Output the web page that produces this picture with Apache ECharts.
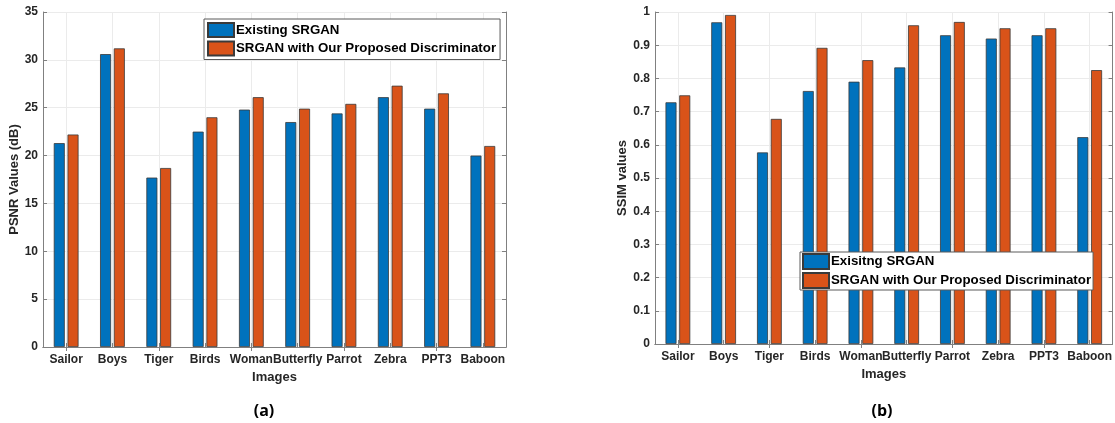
<!DOCTYPE html>
<html>
<head>
<meta charset="utf-8">
<script src="https://cdn.jsdelivr.net/npm/echarts@6/dist/echarts.min.js"></script>
<style>
  html, body { margin: 0; padding: 0; background: #ffffff; }
  #chart { width: 1115px; height: 423px; }
</style>
</head>
<body>
<div id="chart"></div>
<script>
// Test images
const categories = ['Sailor', 'Boys', 'Tiger', 'Birds', 'Woman', 'Butterfly', 'Parrot', 'Zebra', 'PPT3', 'Baboon'];

// PSNR (dB)
const psnrExisting = [21.3, 30.6, 17.7, 22.5, 24.8, 23.5, 24.4, 26.1, 24.9, 20.0];
const psnrProposed = [22.2, 31.2, 18.7, 24.0, 26.1, 24.9, 25.4, 27.3, 26.5, 21.0];

// SSIM
const ssimExisting = [0.728, 0.969, 0.577, 0.762, 0.790, 0.833, 0.930, 0.920, 0.930, 0.623];
const ssimProposed = [0.749, 0.991, 0.678, 0.892, 0.855, 0.960, 0.970, 0.951, 0.951, 0.825];

// Axis ranges
const psnrAxis = { min: 0, max: 35, interval: 5 };
const ssimAxis = { min: 0, max: 1, interval: 0.1 };

// Series / legend names
const psnrNames = ['Existing SRGAN', 'SRGAN with Our Proposed Discriminator'];
const ssimNames = ['Exisitng SRGAN', 'SRGAN with Our Proposed Discriminator'];
const panelLabels = ['(a)', '(b)'];
const yTitles = ['PSNR Values (dB)', 'SSIM values'];
const xTitle = 'Images';

const BLUE = '#0072BD';
const ORANGE = '#D95319';
const INK = '#262626';
const AXIS = '#808080';
const GRIDLINE = '#ebebeb';
const FONT = 'Liberation Sans';

function bottomX(gridIndex, nameGap) {
  return {
    type: 'category', gridIndex, data: categories, position: 'bottom',
    name: xTitle, nameLocation: 'middle', nameGap,
    nameTextStyle: { fontFamily: FONT, fontWeight: 'bold', fontSize: 13, color: INK },
    axisLine: { lineStyle: { color: AXIS, width: 1 } },
    axisTick: { show: true, inside: true, alignWithLabel: true, length: 4, lineStyle: { color: AXIS } },
    axisLabel: { fontFamily: FONT, fontWeight: 'bold', fontSize: 12, color: INK, margin: 7, interval: 0 },
    splitLine: { show: true, alignWithLabel: true, lineStyle: { color: GRIDLINE, width: 1 } }
  };
}
function topX(gridIndex) {
  return {
    type: 'category', gridIndex, data: categories, position: 'top',
    axisLine: { lineStyle: { color: AXIS, width: 1 } },
    axisTick: { show: true, inside: true, alignWithLabel: true, length: 4, lineStyle: { color: AXIS } },
    axisLabel: { show: false }, splitLine: { show: false }
  };
}
function leftY(gridIndex, range, name, nameGap) {
  return {
    type: 'value', gridIndex, position: 'left', min: range.min, max: range.max, interval: range.interval,
    name, nameLocation: 'middle', nameGap,
    nameTextStyle: { fontFamily: FONT, fontWeight: 'bold', fontSize: 13, color: INK },
    axisLine: { show: true, lineStyle: { color: AXIS, width: 1 } },
    axisTick: { show: true, inside: true, length: 4, lineStyle: { color: AXIS } },
    axisLabel: { fontFamily: FONT, fontWeight: 'bold', fontSize: 12, color: INK, margin: 5 },
    splitLine: { show: true, lineStyle: { color: GRIDLINE, width: 1 } }
  };
}
function rightY(gridIndex, range) {
  return {
    type: 'value', gridIndex, position: 'right', min: range.min, max: range.max, interval: range.interval,
    axisLine: { show: true, lineStyle: { color: AXIS, width: 1 } },
    axisTick: { show: true, inside: true, length: 4, lineStyle: { color: AXIS } },
    axisLabel: { show: false }, splitLine: { show: false }
  };
}
function bar(name, data, color, xi, yi) {
  return {
    type: 'bar', name, data, xAxisIndex: xi, yAxisIndex: yi,
    barWidth: 11, barGap: '25%',
    itemStyle: { color, borderColor: '#3a3a3a', borderWidth: 0.8 }
  };
}
function legendBox(names, left, top, itemHeight, itemGap, padding) {
  return {
    data: names, orient: 'vertical', left, top,
    itemWidth: 26, itemHeight, itemGap, padding,
    backgroundColor: '#ffffff', borderColor: '#5a5a5a', borderWidth: 1, borderRadius: 0,
    selectedMode: false, icon: 'rect',
    textStyle: { fontFamily: FONT, fontWeight: 'bold', fontSize: 13.3, lineHeight: 14, color: '#000000', padding: [0, 0, 0, -3] }
  };
}

const chart = echarts.init(document.getElementById('chart'), null, { renderer: 'canvas' });
chart.setOption({
  backgroundColor: '#ffffff',
  animation: false,
  grid: [
    { left: 43, top: 12, width: 463, height: 335 },
    { left: 655, top: 12, width: 458, height: 332 }
  ],
  xAxis: [bottomX(0, 24), topX(0), bottomX(1, 23), topX(1)],
  yAxis: [leftY(0, psnrAxis, yTitles[0], 21), rightY(0, psnrAxis), leftY(1, ssimAxis, yTitles[1], 23), rightY(1, ssimAxis)],
  legend: [
    legendBox(psnrNames, 204, 19, 14, 2.5, [3, 4, 3, 3]),
    legendBox(ssimNames, 800, 252, 15, 2, [1, 2, 1, 2])
  ],
  series: [
    bar(psnrNames[0], psnrExisting, BLUE, 0, 0),
    bar(psnrNames[1], psnrProposed, ORANGE, 0, 0),
    bar(ssimNames[0], ssimExisting, BLUE, 2, 2),
    bar(ssimNames[1], ssimProposed, ORANGE, 2, 2)
  ],
  graphic: [
    { type: 'text', x: 264, y: 411, style: { text: panelLabels[0], font: 'bold 16px "Open Sans"', fill: '#000', align: 'center', verticalAlign: 'middle' } },
    { type: 'text', x: 882, y: 411, style: { text: panelLabels[1], font: 'bold 16px "Open Sans"', fill: '#000', align: 'center', verticalAlign: 'middle' } }
  ]
});
</script>
</body>
</html>
